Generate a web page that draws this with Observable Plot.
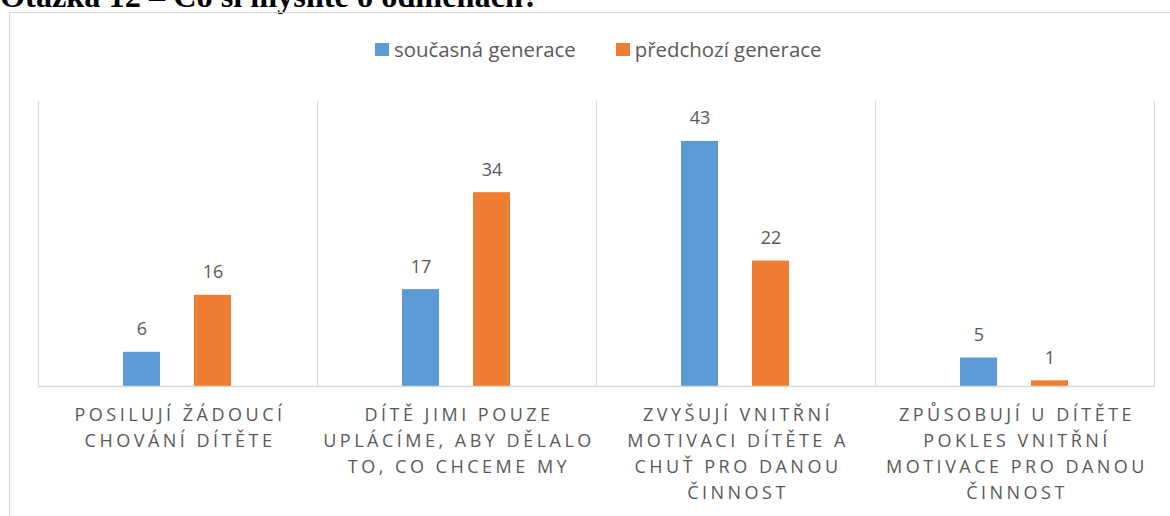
<!DOCTYPE html>
<html>
<head>
<meta charset="utf-8">
<script src="https://cdn.jsdelivr.net/npm/d3@7"></script>
<script src="https://cdn.jsdelivr.net/npm/@observablehq/plot@0.6"></script>
<style>
  html, body { margin: 0; padding: 0; background: #fff; }
  #root { position: relative; width: 1170px; height: 516px; overflow: hidden; background: #fff; }
  #title { position: absolute; left: 0; top: -20px; font-family: "Liberation Serif", "Times New Roman", serif; font-weight: bold; font-size: 32.3px; line-height: 32px; color: #000; white-space: nowrap; }
  #frame { position: absolute; left: 9px; top: 12px; width: 1200px; height: 540px; border: 1px solid #d6d6d6; box-sizing: border-box; }
  #legend { position: absolute; left: 375px; top: 39px; display: flex; align-items: center; font-family: "Open Sans", sans-serif; font-size: 20.4px; line-height: 20px; color: #595959; white-space: nowrap; }
  #legend .item { display: flex; align-items: center; margin-right: 40px; }
  #legend .sw { width: 14px; height: 13px; margin-right: 5px; }
  #chart { position: absolute; left: 0; top: 0; }
</style>
</head>
<body>
<div id="root">
  <div id="title">Otázka 12 – Co si myslíte o odměnách?</div>
  <div id="frame"></div>
  <div id="legend"></div>
  <div id="chart"></div>
</div>
<script>
const categories = [
  "POSILUJÍ ŽÁDOUCÍ\nCHOVÁNÍ DÍTĚTE",
  "DÍTĚ JIMI POUZE\nUPLÁCÍME, ABY DĚLALO\nTO, CO CHCEME MY",
  "ZVYŠUJÍ VNITŘNÍ\nMOTIVACI DÍTĚTE A\nCHUŤ PRO DANOU\nČINNOST",
  "ZPŮSOBUJÍ U DÍTĚTE\nPOKLES VNITŘNÍ\nMOTIVACE PRO DANOU\nČINNOST"
];
const series = ["současná generace", "předchozí generace"];
const currentGeneration = [6, 17, 43, 5];
const previousGeneration = [16, 34, 22, 1];
const colors = ["#5B9BD5", "#ED7D31"];

const data = [];
categories.forEach((c, i) => {
  data.push({category: c, series: series[0], value: currentGeneration[i]});
  data.push({category: c, series: series[1], value: previousGeneration[i]});
});

// legend
const legend = document.getElementById("legend");
series.forEach((s, i) => {
  const item = document.createElement("div");
  item.className = "item";
  const sw = document.createElement("div");
  sw.className = "sw";
  sw.style.background = colors[i];
  const t = document.createElement("span");
  t.textContent = s;
  item.appendChild(sw);
  item.appendChild(t);
  legend.appendChild(item);
});

const chart = Plot.plot({
  width: 1170,
  height: 516,
  marginTop: 101,
  marginBottom: 130,
  marginLeft: 38,
  marginRight: 16,
  style: {fontFamily: "Open Sans, sans-serif", background: "transparent", color: "#595959", overflow: "visible"},
  fx: {domain: categories, padding: 0, label: null},
  x: {domain: series, paddingInner: 0.472, paddingOuter: 1.174, axis: null},
  y: {domain: [0, 50], axis: null},
  color: {domain: series, range: colors},
  marks: [
    Plot.frame({anchor: "left", stroke: "#d9d9d9", strokeOpacity: 1}),
    Plot.frame({anchor: "right", stroke: "#d9d9d9", strokeOpacity: 1}),
    Plot.barY(data, {fx: "category", x: "series", y: "value", fill: "series"}),
    Plot.text(data, {fx: "category", x: "series", y: "value", text: d => String(d.value), lineAnchor: "bottom", dy: -17, fontSize: 18, fill: "#595959"}),
    Plot.ruleY([0], {stroke: "#d9d9d9", strokeWidth: 1.5}),
    Plot.axisFx({anchor: "bottom", tickSize: 0, tickPadding: 16, fontSize: 18, lineHeight: 1.45, label: null, fill: "#595959", dx: 2})
  ]
});
document.getElementById("chart").appendChild(chart);
d3.select(chart).selectAll('g[aria-label="fx-axis tick label"] text').style("letter-spacing", "3.5px");
</script>
</body>
</html>
